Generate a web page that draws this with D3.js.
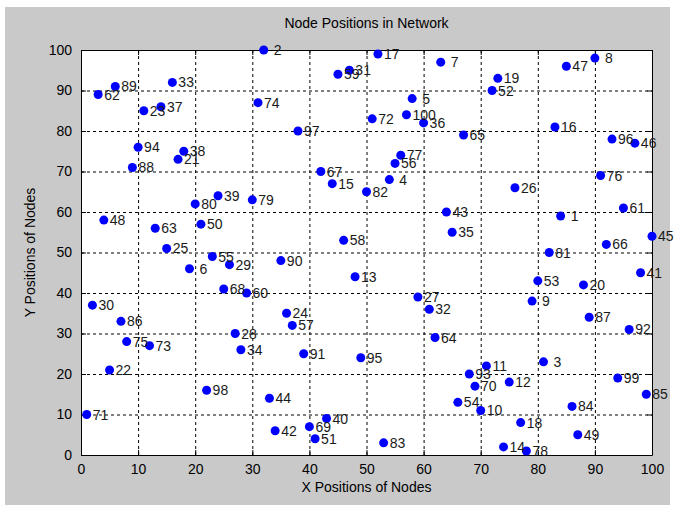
<!DOCTYPE html>
<html>
<head>
	<title></title>
	<meta charset="utf-8">
	<script src="https://d3js.org/d3.v7.min.js"></script>
	<style>
		body { margin: 0; background: #fff; }
		text { font-family: "Liberation Sans", Arial, sans-serif; }
	</style>
</head>
<body>

	<script type="text/javascript">

		// node ids 1..100, x and y positions
		var nodeIds = d3.range(1, 101)
		var xPos = [84,32,81,54,58,19,63,90,79,70, 71,75,48,74,44,83,52,77,73,88,
		            17,5,11,36,15,76,59,27,26,2, 47,61,16,28,65,60,14,18,24,43,
		            98,34,64,33,100,97,85,4,87,21, 41,72,80,66,23,55,37,46,45,29,
		            95,3,13,62,67,92,42,25,40,69, 1,51,12,31,8,91,56,78,30,20,
		            82,50,53,86,99,7,89,9,6,35, 39,96,68,10,49,93,38,22,94,57]
		var yPos = [59,100,23,68,88,46,97,98,38,11, 22,18,44,2,67,81,99,8,93,42,
		            73,21,85,35,51,66,39,30,47,37, 95,36,92,26,55,82,86,75,64,9,
		            45,6,60,14,54,77,96,58,5,57, 4,90,43,13,49,72,32,53,94,40,
		            61,89,56,29,79,52,70,41,7,17, 10,83,27,87,28,69,74,1,63,62,
		            50,65,3,12,15,33,34,71,91,48, 25,31,20,76,24,78,80,16,19,84]
		var xTicks = [0,10,20,30,40,50,60,70,80,90,100]
		var yTicks = [0,10,20,30,40,50,60,70,80,90,100]

		var nodes = nodeIds.map(function(id, i){
			return {id: id, x: xPos[i], y: yPos[i]}
		})

		var W = 675, H = 508
		// plot box edges (window.top is read-only, so no plain "top" here)
		var pLeft = 81, pRight = 652, pTop = 50, pBottom = 455

		var svg = d3.select("body").append("svg")
			.attr("width", W)
			.attr("height", H)

		// grey figure background
		svg.append("rect")
			.attr("x", 5).attr("y", 7)
			.attr("width", 665).attr("height", 498)
			.attr("fill", "#c9c9c9")

		var x = d3.scaleLinear().domain([0, 100]).range([pLeft, pRight])
		var y = d3.scaleLinear().domain([0, 100]).range([pBottom, pTop])

		// white axes area
		svg.append("rect")
			.attr("x", pLeft).attr("y", pTop)
			.attr("width", pRight - pLeft).attr("height", pBottom - pTop)
			.attr("fill", "#fff")

		// dotted grid
		svg.append("g").selectAll("line").data(xTicks.slice(1, -1)).enter()
			.append("line")
			.attr("x1", function(d){ return x(d) + 0.5 })
			.attr("x2", function(d){ return x(d) + 0.5 })
			.attr("y1", pTop).attr("y2", pBottom)
			.attr("stroke", "#000").attr("stroke-dasharray", "3,3")

		svg.append("g").selectAll("line").data(yTicks.slice(1, -1)).enter()
			.append("line")
			.attr("y1", function(d){ return y(d) + 0.5 })
			.attr("y2", function(d){ return y(d) + 0.5 })
			.attr("x1", pLeft).attr("x2", pRight)
			.attr("stroke", "#000").attr("stroke-dasharray", "3,3")

		// axes with inward ticks, on all four sides
		var xAxis = svg.append("g")
			.attr("transform", "translate(0," + pBottom + ")")
			.call(d3.axisBottom(x).tickValues(xTicks).tickSizeInner(-5).tickSizeOuter(0).tickPadding(9))
		var yAxis = svg.append("g")
			.attr("transform", "translate(" + pLeft + ",0)")
			.call(d3.axisLeft(y).tickValues(yTicks).tickSizeInner(-5).tickSizeOuter(0).tickPadding(9))
		svg.append("g")
			.attr("transform", "translate(0," + pTop + ")")
			.call(d3.axisTop(x).tickValues(xTicks).tickSizeInner(-5).tickSizeOuter(0).tickFormat(""))
		svg.append("g")
			.attr("transform", "translate(" + pRight + ",0)")
			.call(d3.axisRight(y).tickValues(yTicks).tickSizeInner(-5).tickSizeOuter(0).tickFormat(""))

		svg.selectAll(".domain").attr("stroke", "#000")
		svg.selectAll(".tick line").attr("stroke", "#000")
		xAxis.selectAll("text").attr("font-size", 14).attr("fill", "#000")
			.attr("font-family", "Liberation Sans, Arial, sans-serif")
		yAxis.selectAll("text").attr("font-size", 14).attr("fill", "#000")
			.attr("font-family", "Liberation Sans, Arial, sans-serif")

		// nodes
		svg.append("g").selectAll("circle").data(nodes).enter()
			.append("circle")
			.attr("cx", function(d){ return x(d.x) })
			.attr("cy", function(d){ return y(d.y) })
			.attr("r", 4.5)
			.attr("fill", "#0000ff")

		svg.append("g").selectAll("text").data(nodes).enter()
			.append("text")
			.attr("x", function(d){ return x(d.x) + (d.id < 10 ? 10 : 6) })
			.attr("y", function(d){ return y(d.y) })
			.attr("dy", "0.36em")
			.attr("font-size", 14)
			.attr("fill", "#1a1a1a")
			.text(function(d){ return d.id })

		// titles
		svg.append("text")
			.attr("x", (pLeft + pRight) / 2).attr("y", 28)
			.attr("text-anchor", "middle")
			.attr("font-size", 14)
			.text("Node Positions in Network")

		svg.append("text")
			.attr("x", (pLeft + pRight) / 2).attr("y", 492)
			.attr("text-anchor", "middle")
			.attr("font-size", 14)
			.text("X Positions of Nodes")

		svg.append("text")
			.attr("transform", "translate(35," + (pTop + pBottom) / 2 + ") rotate(-90)")
			.attr("text-anchor", "middle")
			.attr("font-size", 14)
			.text("Y Positions of Nodes")

	</script>

</body>
</html>
